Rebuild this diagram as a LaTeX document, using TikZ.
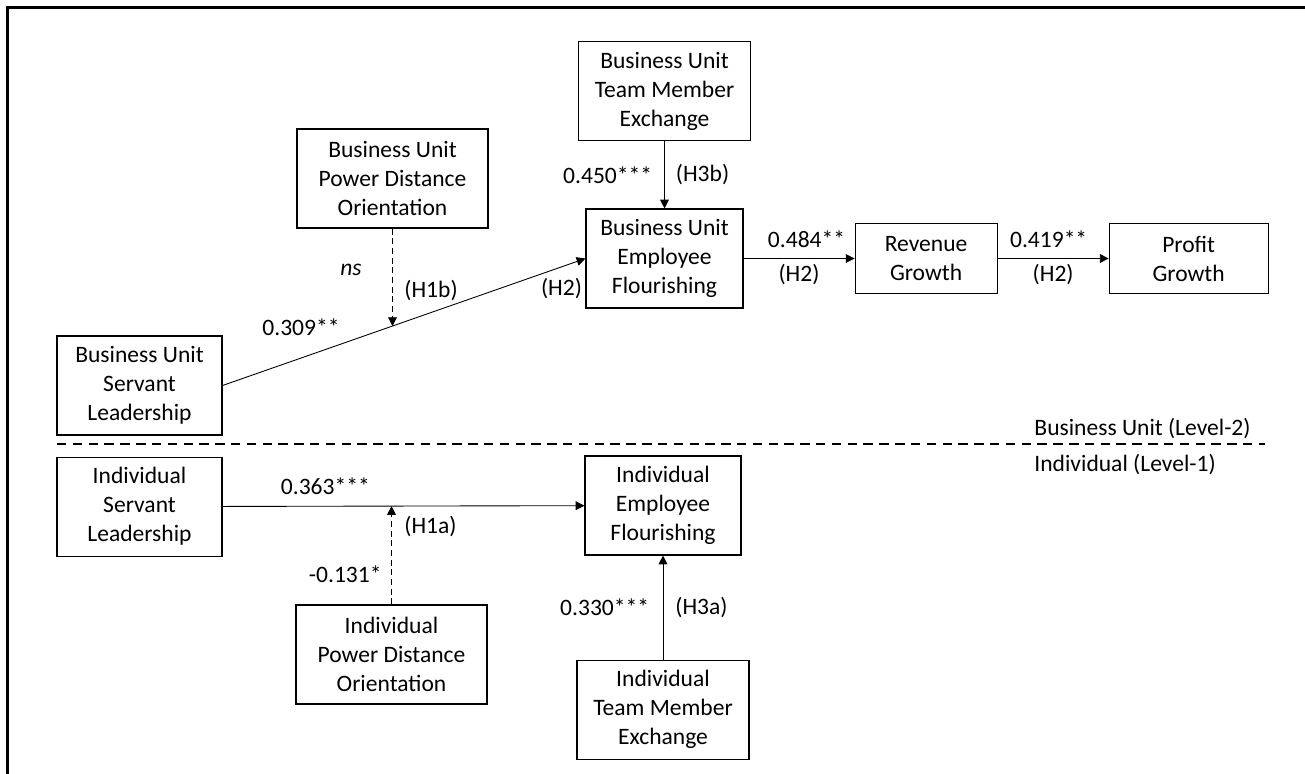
\documentclass[tikz,border=0pt]{standalone}
\usepackage{fontspec}
\setmainfont{Carlito}
\usetikzlibrary{positioning}
\usetikzlibrary{arrows.meta}

\begin{document}
\begin{tikzpicture}[>={Triangle[length=5pt,width=5pt]},
        x=0.02cm, y=-0.02cm,
        line width=0.5pt,
        font=\fontsize{13.4}{16.5}\selectfont,
        var/.style={
        draw=black,
        rectangle,
        line width=0.65pt,
        text=black,
        align=center,
        minimum height=1.98cm,
        inner sep=2pt},
        lbl/.style={inner sep=0pt, text=black},
        level/.style={inner sep=0pt, anchor=west},
        moder/.style={->, dash pattern=on 3.5pt off 2pt},
        divider/.style={line width=0.7pt, dash pattern=on 5.4pt off 3.6pt}]

        \useasboundingbox (0,0) rectangle (1305,774);
        \coordinate (frtr) at (1305,7.5);
        \coordinate (frbl) at (7.5,774);
        \draw[line width=1.2pt] (frtr) -| (frbl);

        % business unit level
        \node[var, minimum width=3.82cm] (bupdo) at (392.5,178.5) {Business Unit\\Power Distance\\Orientation};
        \node[var, minimum width=3.30cm] (busl) at (139.5,385.5) {Business Unit\\Servant\\Leadership};
        \node[var, minimum width=3.14cm] (buef) at (664.5,258.5) {Business Unit\\Employee\\Flourishing};
        \node[var, minimum width=3.44cm] (butmx) [above=1.34cm of buef] {Business Unit\\Team Member\\Exchange};
        \node[var, minimum width=2.84cm, minimum height=1.40cm] (rev) [right=2.22cm of buef] {Revenue\\Growth};
        \node[var, minimum width=3.18cm, minimum height=1.40cm] (prof) [right=2.22cm of rev] {Profit\\Growth};

        % individual level
        \node[var, minimum width=3.30cm] (insl) [below=0.42cm of busl] {Individual\\Servant\\Leadership};
        \node[var, minimum width=3.12cm] (inef) at (663,505.5) {Individual\\Employee\\Flourishing};
        \node[var, minimum width=3.82cm] (inpdo) at (391.5,654.5) {Individual\\Power Distance\\Orientation};
        \node[var, minimum width=3.44cm] (intmx) [below=2.08cm of inef] {Individual\\Team Member\\Exchange};

        \draw[->] (busl.east) -- coordinate[pos=0.468] (bumod) (buef.west); % BU SL->EF
        \node[lbl] (c309) at (301,327) {0.309**};
        \node[lbl] (h2a) at (561.5,289) {(H2)};
        \draw[moder] (bupdo.south) -- node[lbl, pos=0.42, left=0.61cm] (ns) {\textit{ns}} node[lbl, pos=0.64, right=0.23cm] (h1b) {(H1b)} (bupdo.south |- bumod);
        \draw[->] (butmx) -- node[lbl, left=0.24cm] (c450) {0.450***} node[lbl, right=0.22cm] (h3b) {(H3b)} (buef);
        \draw[->] (buef) -- node[lbl, above=0.2cm, xshift=0.15cm] (c484) {0.484**} node[lbl, below=0.1cm] (h2b) {(H2)} (rev);
        \draw[->] (rev) -- node[lbl, above=0.2cm, xshift=-0.09cm] (c419) {0.419**} node[lbl, below=0.1cm] (h2c) {(H2)} (prof);

        \draw[->] (insl) -- node[lbl, pos=0.284, above=0.23cm] (c363) {0.363***} coordinate[pos=0.467] (inmod) (inef); % IND SL->EF
        \draw[moder] (inpdo.north) -- node[lbl, pos=0.31, left=0.19cm] (c131) {-0.131*} node[lbl, pos=0.79, right=0.25cm] (h1a) {(H1a)} (inpdo.north |- inmod);
        \draw[->] (intmx) -- node[lbl, left=0.27cm] (c330) {0.330***} node[lbl, right=0.24cm] (h3a) {(H3a)} (inef);

        % levels
        \coordinate (divl) at (57,444);
        \coordinate (divr) at (1265,444);
        \draw[divider] (divl) -- (divr);
        \node[level] (lvltwo) at (1034,429) {Business Unit (Level-2)};
        \node[level] (lvlone) at (1034,465) {Individual (Level-1)};
\end{tikzpicture}
\end{document}
